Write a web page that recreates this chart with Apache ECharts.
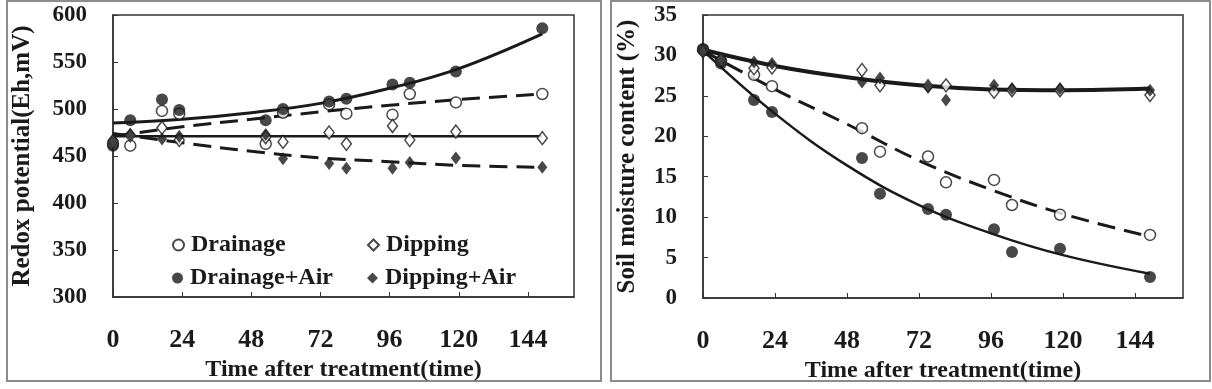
<!DOCTYPE html>
<html>
<head>
<meta charset="utf-8">
<script src="https://cdn.jsdelivr.net/npm/echarts@6/dist/echarts.min.js"></script>
<style>
  html, body { margin: 0; padding: 0; background: #fff; }
  .frame { position: absolute; top: 0; height: 382px; border: 2px solid #8c8c8c; box-sizing: border-box; }
  #chart { position: absolute; left: 0; top: 0; width: 1212px; height: 389px; }
</style>
</head>
<body>
<div class="frame" style="left:6px; width:596px;"></div>
<div class="frame" style="left:610px; width:601px;"></div>
<div id="chart"></div>
<script>
// sampling times (h)
const hours = [0, 6, 17, 23, 53, 59, 75, 81, 97, 103, 119, 149];

// redox potential (Eh, mV)
const redoxDrainage = [463, 461, 498, 495, 463, 496, 505, 495, 494, 516, 507, 516];
const redoxDrainageAir = [461, 488, 510, 499, 488, 500, 508, 511, 526, 528, 540, 586];
const redoxDipping = [466, 472, 480, 467, 470, 465, 475, 463, 482, 467, 476, 469];
const redoxDippingAir = [467, 473, 468, 471, 473, 447, 442, 437, 437, 443, 448, 438];

// soil moisture content (%)
const moistDrainage = [30.7, 29.3, 27.6, 26.2, 21.0, 18.1, 17.5, 14.3, 14.6, 11.5, 10.3, 7.8];
const moistDrainageAir = [30.8, 29.0, 24.5, 23.0, 17.3, 12.9, 11.0, 10.3, 8.5, 5.7, 6.1, 2.6];
const moistDipping = [30.5, 29.5, 28.4, 28.5, 28.2, 26.3, 26.2, 26.3, 25.5, 25.7, 25.7, 25.1];
const moistDippingAir = [30.5, 29.6, 29.2, 29.0, 26.7, 27.2, 26.1, 24.5, 26.3, 25.9, 25.9, 25.7];

// trend lines
const fitHours = [0, 24, 48, 72, 96, 120, 149];
const redoxFitDrainage = [471, 481, 489, 497, 504, 510, 516];
const redoxFitDrainageAir = [485, 489, 496, 506, 522, 543, 580];
const redoxFitDipping = [471, 471, 471, 471, 471, 471, 471];
const redoxFitDippingAir = [474, 464, 455, 448, 444, 440, 438];
const moistFitDrainage = [30.6, 25.8, 21.5, 17.0, 13.4, 10.4, 7.6];
const moistFitDrainageAir = [30.6, 22.8, 16.4, 11.5, 8.0, 5.3, 3.0];
const moistFitDipping = [30.7, 28.7, 27.3, 26.3, 25.8, 25.7, 25.9];

const ink = '#1a1a1a';
const serif = '"Liberation Serif", "Times New Roman", serif';

const pairs = (xs, ys) => xs.map((x, i) => [x, ys[i]]);

const markers = {
  'Drainage': { symbol: 'circle', symbolSize: 11, itemStyle: { color: '#fff', borderColor: ink, borderWidth: 1.5 } },
  'Drainage+Air': { symbol: 'circle', symbolSize: 12, itemStyle: { color: ink } },
  'Dipping': { symbol: 'diamond', symbolSize: [10, 13], itemStyle: { color: '#fff', borderColor: ink, borderWidth: 1.5 } },
  'Dipping+Air': { symbol: 'diamond', symbolSize: [10, 13], itemStyle: { color: ink } }
};

function scatter(name, idx, ys) {
  return Object.assign({
    name, type: 'scatter', xAxisIndex: idx, yAxisIndex: idx, z: 5,
    data: pairs(hours, ys)
  }, markers[name]);
}

function fit(idx, ys, dashed, width) {
  return {
    type: 'line', xAxisIndex: idx, yAxisIndex: idx, z: 3,
    showSymbol: false, smooth: 0.4, silent: true,
    lineStyle: { color: ink, width: width, type: dashed ? [18, 9] : 'solid' },
    data: pairs(fitHours, ys)
  };
}

function xAxis(idx) {
  return {
    gridIndex: idx, type: 'value', min: 0, max: 160, interval: 24,
    axisLine: { show: true, lineStyle: { color: '#333', width: 1.5 } },
    axisTick: { show: true, inside: true, length: 5, lineStyle: { color: '#333' } },
    axisLabel: { showMaxLabel: false, margin: 30, fontSize: 26, fontWeight: 'bold', fontFamily: serif, color: ink },
    splitLine: { show: false },
    name: 'Time after treatment(time)', nameLocation: 'middle', nameGap: 51,
    nameTextStyle: { fontSize: 24, fontWeight: 'bold', fontFamily: serif, color: ink }
  };
}

function yAxis(idx, min, max, step, name, gap) {
  return {
    gridIndex: idx, type: 'value', min, max, interval: step,
    axisLine: { show: true, lineStyle: { color: '#333', width: 1.5 } },
    axisTick: { show: true, inside: true, length: 5, lineStyle: { color: '#333' } },
    axisLabel: { margin: 26, fontSize: 23, fontWeight: 'bold', fontFamily: serif, color: ink },
    splitLine: { show: false },
    name, nameLocation: 'middle', nameGap: gap,
    nameTextStyle: { fontSize: 25, fontWeight: 'bold', fontFamily: serif, color: ink }
  };
}

function legend(name, left, top) {
  return {
    data: [name], left, top, itemWidth: 11, itemHeight: 11, selectedMode: false,
    textStyle: { fontSize: 24, fontWeight: 'bold', fontFamily: serif, color: ink, padding: [0, 0, 0, 2] }
  };
}

const chart = echarts.init(document.getElementById('chart'));
chart.setOption({
  animation: false,
  grid: [
    { left: 113, top: 15, width: 461, height: 282, show: true, borderColor: '#333', borderWidth: 1.5 },
    { left: 703, top: 15, width: 480, height: 283, show: true, borderColor: '#333', borderWidth: 1.5 }
  ],
  xAxis: [xAxis(0), xAxis(1)],
  yAxis: [
    yAxis(0, 300, 600, 50, 'Redox potential(Eh,mV)', 78),
    yAxis(1, 0, 35, 5, 'Soil moisture content (%)', 63)
  ],
  legend: [
    legend('Drainage', 167, 228),
    legend('Dipping', 362, 228),
    legend('Drainage+Air', 167, 261),
    legend('Dipping+Air', 362, 261)
  ],
  series: [
    fit(0, redoxFitDrainage, true, 3),
    fit(0, redoxFitDrainageAir, false, 3),
    fit(0, redoxFitDipping, false, 2.5),
    fit(0, redoxFitDippingAir, true, 3),
    scatter('Drainage', 0, redoxDrainage),
    scatter('Drainage+Air', 0, redoxDrainageAir),
    scatter('Dipping', 0, redoxDipping),
    scatter('Dipping+Air', 0, redoxDippingAir),
    fit(1, moistFitDrainage, true, 3),
    fit(1, moistFitDrainageAir, false, 2.5),
    fit(1, moistFitDipping, false, 4),
    scatter('Drainage', 1, moistDrainage),
    scatter('Drainage+Air', 1, moistDrainageAir),
    scatter('Dipping', 1, moistDipping),
    scatter('Dipping+Air', 1, moistDippingAir)
  ]
});
</script>
</body>
</html>
